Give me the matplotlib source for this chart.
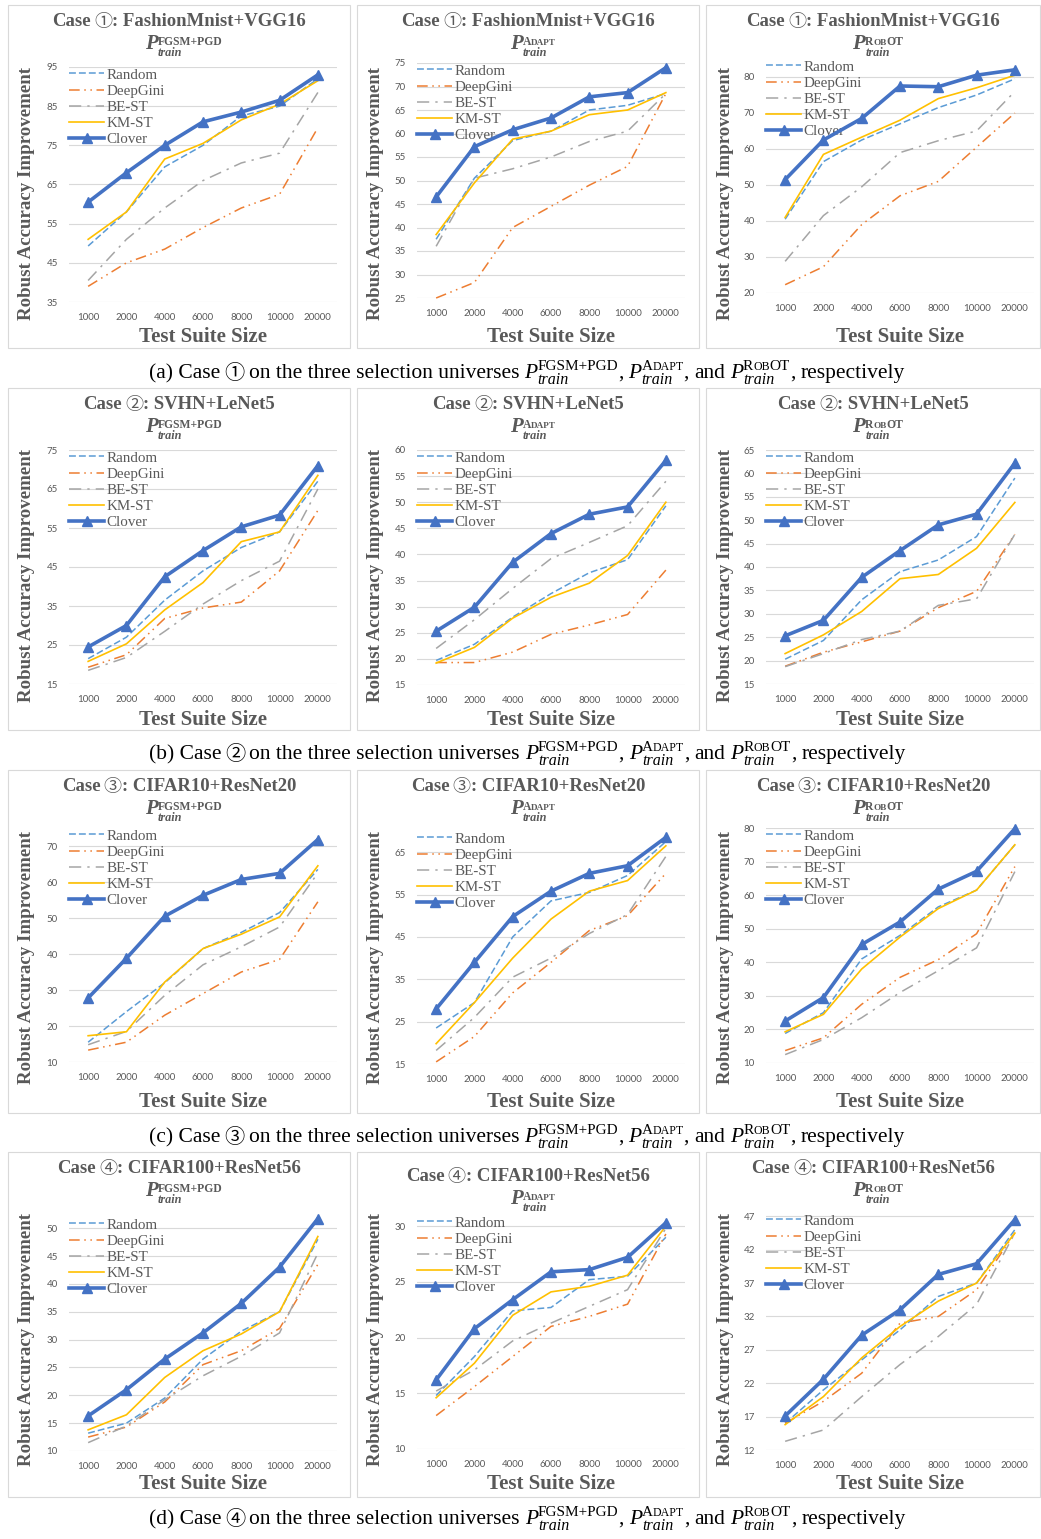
import matplotlib

matplotlib.use("Agg")

import matplotlib.pyplot as plt  # noqa: E402
from matplotlib.patches import Rectangle  # noqa: E402

sizes = ["1000", "2000", "4000", "6000", "8000", "10000", "20000"]
methods = ["Random", "DeepGini", "BE-ST", "KM-ST", "Clover"]

# case 1: FashionMnist+VGG16 (rows follow `methods`)
c1_fgsm = [
    [49.3, 58, 69.5, 75, 82.5, 85, 92],
    [39, 45, 48.5, 54, 59, 62.5, 79.5],
    [40.5, 51, 59, 66, 70.5, 73, 88.5],
    [51, 58, 71.5, 75.5, 81.5, 85.5, 91.5],
    [60.5, 68, 75, 81, 83.5, 86.5, 93],
]
c1_adapt = [
    [37.5, 50.5, 58.5, 60.5, 65, 66, 68.5],
    [25, 28.3, 40, 44.5, 49, 53, 68.5],
    [36, 50.5, 52.5, 55, 58.3, 60.5, 68.5],
    [38.5, 49.5, 58.8, 60.5, 64, 65, 68.7],
    [46.5, 57.2, 60.8, 63.3, 67.8, 68.7, 74],
]
c1_robot = [
    [40.5, 56.5, 62.5, 67, 71.5, 75, 79.5],
    [22.3, 27.3, 39, 47, 51, 60.5, 70],
    [28.8, 41.5, 49.5, 59, 62.3, 65, 76],
    [41, 58.5, 63.3, 68, 74, 77, 80.5],
    [51.5, 62.5, 68.5, 77.5, 77.3, 80.5, 82],
]

# case 2: SVHN+LeNet5
c2_fgsm = [
    [21.5, 27, 36.5, 44, 50, 54, 67],
    [19.3, 22.5, 31.8, 34.5, 36, 44, 59.5],
    [18.5, 21.8, 28.5, 35.5, 41.5, 46.5, 65],
    [20.8, 25.3, 34, 41, 51.5, 54, 68.5],
    [24.5, 30, 42.5, 49.2, 55.3, 58.3, 71],
]
c2_adapt = [
    [19.7, 22.8, 28, 32.5, 36.5, 39, 49.3],
    [19.3, 19.3, 21.3, 24.7, 26.5, 28.5, 37],
    [22, 27.5, 33.5, 39.2, 42.3, 45.5, 54],
    [19.2, 22.2, 27.8, 31.8, 34.5, 39.8, 50],
    [25.3, 29.9, 38.5, 44, 47.7, 49.1, 58],
]
c2_robot = [
    [20.3, 24.3, 33, 39, 41.5, 46.5, 59],
    [18.8, 21.8, 24, 26.3, 31.3, 34.8, 47],
    [18.7, 21.5, 24.5, 26.3, 31.8, 33.2, 47],
    [21.5, 25.5, 30.5, 37.5, 38.4, 44, 53.8],
    [25.3, 28.6, 37.8, 43.5, 49, 51.3, 62.2],
]

# case 3: CIFAR10+ResNet20
c3_fgsm = [
    [15.5, 24, 32, 41.5, 46, 51.5, 63.5],
    [13.3, 15.5, 23, 29, 35, 38.5, 54.5],
    [14.8, 18.5, 28.5, 37, 42, 47.5, 62.5],
    [17.3, 18.4, 32.2, 41.5, 45.5, 50.3, 64.5],
    [27.8, 38.8, 50.5, 56.3, 60.7, 62.4, 71.8],
]
c3_adapt = [
    [23.5, 29.5, 45, 53.5, 55.5, 59.5, 67.5],
    [15.5, 21.5, 31.8, 39, 46.5, 50, 60],
    [18.2, 26, 35.5, 40, 45.8, 50.3, 64],
    [19.8, 29.5, 40, 49.2, 55.8, 58.3, 66.5],
    [28, 39, 49.8, 55.8, 60, 61.8, 68.5],
]
c3_robot = [
    [18.8, 25, 41, 48, 56.5, 61.5, 75],
    [13.7, 17.5, 27.5, 35.5, 40.8, 48.5, 68.5],
    [12.5, 17, 23.5, 31, 37.5, 44.3, 67],
    [19.3, 24.5, 38, 47.5, 56, 61.5, 75],
    [22.5, 29.5, 45.3, 52, 61.8, 67.1, 79.8],
]

# case 4: CIFAR100+ResNet56
c4_fgsm = [
    [13.2, 15, 19.5, 26.5, 31.5, 35, 48],
    [12.5, 14.3, 18.8, 25.5, 28, 32, 43.5],
    [11.5, 14.5, 19.2, 23.5, 27, 31.2, 45.5],
    [13.8, 16.5, 23.2, 28, 31, 35, 48.5],
    [16.3, 21, 26.5, 31.2, 36.5, 43, 51.7],
]
c4_adapt = [
    [14.8, 18.3, 22.4, 22.7, 25.2, 25.5, 29],
    [13, 15.6, 18.3, 21, 21.9, 23, 29.3],
    [15.2, 17.1, 19.7, 21.3, 22.8, 24.3, 29.8],
    [14.6, 17.7, 22, 24.1, 24.6, 25.6, 30],
    [16.2, 20.8, 23.4, 25.9, 26.1, 27.2, 30.3],
]
c4_robot = [
    [16, 21, 25.5, 30, 35, 37, 45],
    [16, 19.3, 23.5, 31, 32, 36, 44.5],
    [13.3, 15, 20, 24.8, 29, 33.8, 44.5],
    [15.8, 20, 25.8, 30.5, 34.3, 37, 44.5],
    [17.1, 22.6, 29.2, 33, 38.3, 39.9, 46.5],
]

case_names = [
    "FashionMnist+VGG16",
    "SVHN+LeNet5",
    "CIFAR10+ResNet20",
    "CIFAR100+ResNet56",
]
case_marks = ["\u2460", "\u2461", "\u2462", "\u2463"]
row_letters = ["(a)", "(b)", "(c)", "(d)"]
grid_data = [
    [c1_fgsm, c1_adapt, c1_robot],
    [c2_fgsm, c2_adapt, c2_robot],
    [c3_fgsm, c3_adapt, c3_robot],
    [c4_fgsm, c4_adapt, c4_robot],
]
# (ymin, ymax, first tick, last tick, step)
y_axes = [
    [(35, 95, 35, 95, 10), (25, 75, 25, 75, 5), (20, 85, 20, 80, 10)],
    [(15, 75, 15, 75, 10), (15, 60, 15, 60, 5), (15, 65, 15, 65, 5)],
    [(10, 75, 10, 70, 10), (15, 70, 15, 65, 10), (10, 80, 10, 80, 10)],
    [(10, 52, 10, 50, 5), (10, 31, 10, 30, 5), (12, 47.5, 12, 47, 5)],
]

# layout, in pixels from the top-left corner
W, H = 1041, 1539
PANEL_X = [(8, 350), (357, 699), (706, 1040)]
PANEL_Y = [(5, 348), (388, 730), (770, 1113), (1152, 1497)]
AX_X = [(69, 337), (417, 685), (766, 1034)]
AX_Y = [
    [(67, 302), (63, 298), (59, 293)],
    [(450, 684), (450, 685), (450, 684)],
    [(828, 1062), (831, 1064), (828, 1063)],
    [(1217, 1451), (1215, 1449), (1213, 1450)],
]
CAPTION_Y = [378, 759, 1142, 1524]

colors = {
    "Random": "#5B9BD5",
    "DeepGini": "#ED7D31",
    "BE-ST": "#A5A5A5",
    "KM-ST": "#FFC000",
    "Clover": "#4472C4",
}
styles = {
    "Random": (0, (4.5, 2)),
    "DeepGini": (0, (7, 3, 1, 3, 1, 3)),
    "BE-ST": (0, (8, 4, 1.5, 4)),
    "KM-ST": "-",
    "Clover": "-",
}
widths = {"Random": 1.1, "DeepGini": 1.1, "BE-ST": 1.1, "KM-ST": 1.2, "Clover": 2.6}

GRAY = "#595959"
SERIF = ["Liberation Serif", "DejaVu Sans"]
CIRCLE = ["Noto Sans CJK JP", "DejaVu Sans"]

sup_fgsm = [("FGSM+PGD", 1.0)]
sup_adapt = [("A", 1.0), ("DAPT", 0.78)]
sup_robot = [("R", 1.0), ("OB", 0.78), ("OT", 1.0)]
universes = [sup_fgsm, sup_adapt, sup_robot]

fig = plt.figure(figsize=(W / 100, H / 100), dpi=100)
renderer = fig.canvas.get_renderer()


def put(s, size, weight, style, color, family):
    return fig.text(0, 0, s, fontsize=size, fontweight=weight, fontstyle=style,
                    family=family, color=color, ha="left", va="baseline")


def rich(xc, y, cols, color):
    """cols: list of columns, each a list of (dy, segments) lines, or ("gap", px)."""
    placed = []
    total = 0
    for col in cols:
        if col[0] == "gap":
            total += col[1]
            continue
        width = 0
        for dy, segs in col:
            x = 0
            for seg in segs:
                txt, size, weight, style = seg[:4]
                family = seg[4] if len(seg) > 4 else SERIF
                t = put(txt, size, weight, style, color, family)
                placed.append((t, total + x, dy))
                x += t.get_window_extent(renderer).width
            width = max(width, x)
        total += width
    x0 = xc - total / 2
    for t, dx, dy in placed:
        t.set_position(((x0 + dx) / W, 1 - (y + dy) / H))


def p_group(sup, size, weight, small, up, down):
    sup_segs = [(txt, small * sc, weight, "normal") for txt, sc in sup]
    return [
        [(0, [("P", size, weight, "italic")])],
        [(-up, sup_segs), (down, [("train", small * 1.05, weight, "italic")])],
    ]


def word(txt, size, weight="normal"):
    return [(0, [(txt, size, weight, "normal")])]


def mark(r, size):
    return [(1, [(case_marks[r], size, "normal", "normal", CIRCLE)])]


for r in range(4):
    for c in range(3):
        px0, px1 = PANEL_X[c]
        py0, py1 = PANEL_Y[r]
        fig.add_artist(Rectangle((px0 / W, 1 - py1 / H), (px1 - px0) / W, (py1 - py0) / H,
                                 transform=fig.transFigure, fill=False,
                                 ec="#d9d9d9", lw=0.8))

        shift = 8 if (r, c) == (3, 1) else 0
        pcx = (px0 + px1) / 2
        rich(pcx, py0 + 21 + shift,
             [word("Case", 13.5, "bold"), ("gap", 3), mark(r, 13),
              word(": " + case_names[r], 13.5, "bold")], GRAY)
        rich(pcx + 5, py0 + 44 + shift,
             p_group(universes[c], 15, "bold", 8.4, 4, 7), GRAY)

        l, rr = AX_X[c]
        top, bottom = AX_Y[r][c]
        ax = fig.add_axes([l / W, 1 - bottom / H, (rr - l) / W, (bottom - top) / H])
        vals = grid_data[r][c]
        for i, name in enumerate(methods):
            ax.plot(sizes, vals[i], color=colors[name], linestyle=styles[name],
                    linewidth=widths[name], label=name, clip_on=False,
                    marker="^" if name == "Clover" else None, markersize=7.5,
                    zorder=3 + i)

        ymin, ymax, t0, t1, step = y_axes[r][c]
        ticks = []
        v = t0
        while v <= t1 + 1e-9:
            ticks.append(v)
            v += step
        ax.set_xlim(-0.5, 6.5)
        ax.set_ylim(ymin, ymax)
        ax.set_yticks(ticks)
        ax.grid(axis="y", color="#d9d9d9", linewidth=0.8)
        ax.set_axisbelow(True)
        for s in ax.spines.values():
            s.set_visible(False)
        ax.tick_params(length=0, labelsize=7, labelcolor=GRAY)
        ax.tick_params(axis="y", pad=8)
        ax.tick_params(axis="x", pad=8)
        for lab in ax.get_xticklabels() + ax.get_yticklabels():
            lab.set_family("Lato")

        leg = ax.legend(loc="upper left", bbox_to_anchor=(0, 0.995), frameon=False,
                        borderaxespad=0, borderpad=0, handlelength=2.35,
                        handletextpad=0.15, labelspacing=0.18,
                        prop={"family": "Liberation Serif", "size": 10.8})
        for txt in leg.get_texts():
            txt.set_color(GRAY)

        fig.text(((l + rr) / 2) / W, 1 - (py0 + 337) / H, "Test Suite Size",
                 ha="center", va="baseline", fontsize=15, fontweight="bold",
                 family=SERIF, color=GRAY)
        fig.text((px0 + 19) / W, 1 - (py0 + 188) / H, "Robust Accuracy Improvement",
                 ha="center", va="center", rotation=90, fontsize=13.6,
                 fontweight="bold", family=SERIF, color=GRAY)

    fs = 15.5
    cap = [word(row_letters[r] + " Case", fs), ("gap", 4), mark(r, fs - 1), ("gap", 4),
           word("on the three selection universes", fs), ("gap", 5)]
    cap += p_group(sup_fgsm, fs, "normal", 11, 8, 6)
    cap += [word(",", fs), ("gap", 5)]
    cap += p_group(sup_adapt, fs, "normal", 11, 8, 6)
    cap += [word(",", fs), ("gap", 5), word("and", fs), ("gap", 5)]
    cap += p_group(sup_robot, fs, "normal", 11, 8, 6)
    cap += [word(",", fs), ("gap", 5), word("respectively", fs)]
    rich(527, CAPTION_Y[r], cap, "black")

fig.savefig("out.png", dpi=100)
